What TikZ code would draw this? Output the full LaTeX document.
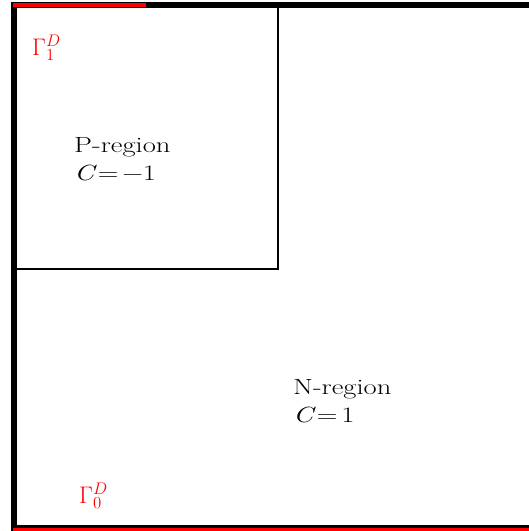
\RequirePackage{fix-cm}
\documentclass[tikz,border=0pt]{standalone}
\usepackage{fontspec}
\newfontfamily\widefont{Latin Modern Roman}[FakeStretch=1.3]
\newcommand\eqgap{\hspace{0.17em}}
\begin{document}
\begin{tikzpicture}[x=1pt,y=-1pt,
  thickblack/.style={line width=6pt,black},
  redbound/.style={line width=4pt,red},
  thinbox/.style={line width=1.3pt,black},
  regiontext/.style={anchor=base west,inner sep=0pt,align=left,
    font=\fontsize{22pt}{28pt}\widefont},
  bdlabel/.style={anchor=base west,inner sep=0pt,text=red,font=\fontsize{24pt}{28pt}\selectfont}]
\useasboundingbox (0,0) rectangle (529,531);
% corners of the domain
\coordinate (tl) at (14,5);
\coordinate (tr) at (529,5);
\coordinate (br) at (529,528);
% inner P-region box
\coordinate (pbr) at (278,269);
\draw[thinbox] (tl) rectangle (pbr);
% thick black boundaries
\draw[thickblack] (14,531) -- (14,2);
\draw[thickblack] (11,5) -- (tr);
\draw[thickblack] (11,528) -- (br);
% red Dirichlet boundaries
\coordinate (r1a) at (13,5);
\coordinate (r1b) at (146,5);
\coordinate (r0a) at (13,529.3);
\coordinate (r0b) at (529,529.3);
\draw[redbound] (r1a) -- (r1b);
\draw[redbound,line width=3.6pt] (r0a) -- (r0b);
% labels
\node[bdlabel] (g1) at (32,55) {$\Gamma_1^D$};
\node[bdlabel] (g0) at (79,503) {$\Gamma_0^D$};
\node[regiontext] (p) at (74,180) {P-region\\{\itshape C}\eqgap=\eqgap−1};
\node[regiontext] (n) at (293,422) {N-region\\{\itshape C}\eqgap=\eqgap1};
\end{tikzpicture}
\end{document}
